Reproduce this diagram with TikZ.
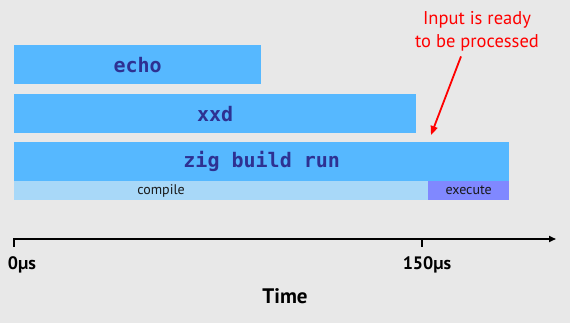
\documentclass[tikz,border=0pt]{standalone}
\usepackage{fontspec}
\setmainfont{PT Sans}
\newfontfamily\barfont{DejaVu Sans Mono}
\usetikzlibrary{arrows.meta,positioning}
\definecolor{bgGray}{HTML}{E8E8E8}
\definecolor{barBlue}{HTML}{56B8FF}
\definecolor{compileBlue}{HTML}{A8D8F8}
\definecolor{executeBlue}{HTML}{8088FF}
\definecolor{labelBlue}{HTML}{2E3192}
\begin{document}
\begin{tikzpicture}[
  x=1pt,y=-1pt,
  bar/.style={fill=barBlue, draw=none, anchor=north west, minimum height=39pt, inner sep=0pt, font=\barfont\bfseries\fontsize{20}{22}\selectfont, text=labelBlue},
  phase/.style={fill=#1, draw=none, anchor=north west, minimum height=19pt, inner sep=0pt},
  phaselabel/.style={font=\fontsize{14}{16}\selectfont, text=black!90},
  tick/.style={font=\bfseries\fontsize{18}{22}\selectfont},
  axis/.style={-{Triangle[length=7pt,width=6pt]}, line width=1.6pt},
  note/.style={align=center, text=red, font=\fontsize{18.5}{23}\selectfont},
  arr/.style={-{Triangle[length=9pt,width=7pt]}, line width=1.8pt, red}
]
\fill[bgGray] (0,0) rectangle (570,323);
% bars
\node[bar, minimum width=247pt] (echo) at (14,45) {echo};
\node[bar, minimum width=402pt] (xxd) at (14,94) {xxd};
\node[bar, minimum width=495pt] (zig) at (14,142) {zig build run};
\node[phase=compileBlue, minimum width=414pt] (compile) at (14,181) {};
\node[phase=executeBlue, minimum width=81pt] (execute) at (428,181) {};
\node[phaselabel] at (161,190.5) {compile};
\node[phaselabel] at (execute.center) {execute};
% time axis
\coordinate (origin) at (14,239);
\coordinate (axisend) at (556,239);
\coordinate (mark150) at (422,239);
\draw[axis] ([xshift=-0.8pt]origin) -- (axisend);
\draw[line width=1.6pt] (origin) -- ++(0,8);
\draw[line width=1.6pt] (mark150) -- ++(0,8);
\node[tick] (zero) at (22,265) {0µs};
\node[tick] (oneFifty) at (427,265) {150µs};
\node[font=\fontsize{21}{24}\selectfont\bfseries] (time) at (285,296) {Time};
% note
\node[note] (ready) at (477,31) {Input is ready\\to be processed};
\coordinate (readytip) at (431,135);
\draw[arr] ([xshift=-16pt,yshift=-2pt]ready.south) -- (readytip);
\end{tikzpicture}
\end{document}
